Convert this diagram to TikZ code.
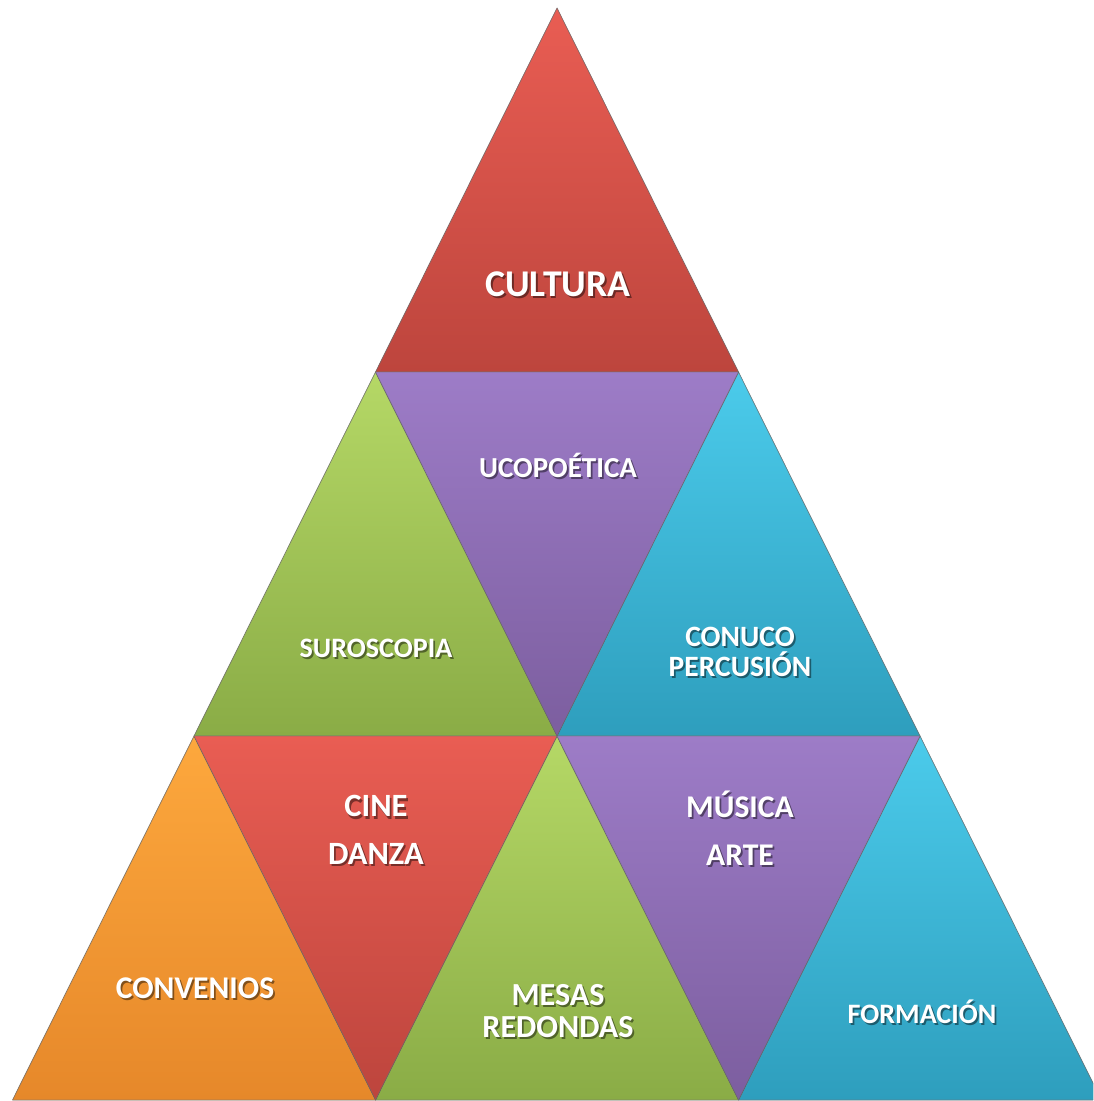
\documentclass[tikz,border=0pt]{standalone}
\usepackage{fontspec}
\setmainfont{Carlito}

\begin{document}
\begin{tikzpicture}[x=0.02cm,y=-0.02cm,
    tri/.style={draw=black!55,draw opacity=0.6,line width=0.5pt,line join=round},
    redtri/.style={tri,top color=red1,bottom color=red2},
    purtri/.style={tri,top color=pur1,bottom color=pur2},
    grntri/.style={tri,top color=grn1,bottom color=grn2},
    cyntri/.style={tri,top color=cyn1,bottom color=cyn2},
    orgtri/.style={tri,top color=org1,bottom color=org2},
    lbl/.style={text=white,align=center,inner sep=0pt},
    lblshadow/.style={lbl,text=black,text opacity=0.45,xshift=1pt,yshift=-1.2pt}]
  \definecolor{red1}{HTML}{E95D53}\definecolor{red2}{HTML}{BD453D}
  \definecolor{pur1}{HTML}{9D7CC7}\definecolor{pur2}{HTML}{7C5E9F}
  \definecolor{grn1}{HTML}{B5D866}\definecolor{grn2}{HTML}{8AAC46}
  \definecolor{cyn1}{HTML}{4BCBEB}\definecolor{cyn2}{HTML}{2E9EBD}
  \definecolor{org1}{HTML}{FDA83D}\definecolor{org2}{HTML}{E6882A}
  \useasboundingbox (0,0) rectangle (1093,1101);
  \clip (0,0) rectangle (1093,1101);
  % lattice of corners
  \foreach \r in {0,...,3}
    \foreach \k in {0,...,\r}
      \coordinate (p\r\k) at ({557+181.5*(2*\k-\r)},{8+364*\r});
  % top row
  \filldraw[redtri] (p00) -- (p10) -- (p11) -- cycle;
  % middle row
  \filldraw[grntri] (p10) -- (p20) -- (p21) -- cycle;
  \filldraw[cyntri] (p11) -- (p21) -- (p22) -- cycle;
  \filldraw[purtri] (p10) -- (p11) -- (p21) -- cycle;
  % bottom row
  \filldraw[orgtri] (p20) -- (p30) -- (p31) -- cycle;
  \filldraw[grntri] (p21) -- (p31) -- (p32) -- cycle;
  \filldraw[cyntri] (p22) -- (p32) -- (p33) -- cycle;
  \filldraw[redtri] (p20) -- (p21) -- (p31) -- cycle;
  \filldraw[purtri] (p21) -- (p22) -- (p32) -- cycle;
  % labels: name/x/y/size/baselineskip/text
  \foreach \nm/\x/\y/\fs/\bs/\txt in {
      cultura/558/284/21.5/24/CULTURA,
      ucopo/558/465/16.5/20/UCOPOÉTICA,
      suros/376/648/16/20/SUROSCOPIA,
      conuco/740/652/16.8/16.8/{CONUCO\\PERCUSIÓN},
      cine/376/830/18.5/27/{CINE\\DANZA},
      musica/740/828/18/27/{MÚSICA\\ARTE},
      conven/195/988/18/20/CONVENIOS,
      mesas/558/1011/18.3/18.3/{MESAS\\REDONDAS},
      formac/922/1012/16/20/FORMACIÓN} {
    \node[lblshadow,font=\bfseries\fontsize{\fs}{\bs}\selectfont] (\nm s) at (\x,\y) {\txt};
    \node[lbl,font=\bfseries\fontsize{\fs}{\bs}\selectfont] (\nm) at (\x,\y) {\txt};
  }
\end{tikzpicture}
\end{document}
